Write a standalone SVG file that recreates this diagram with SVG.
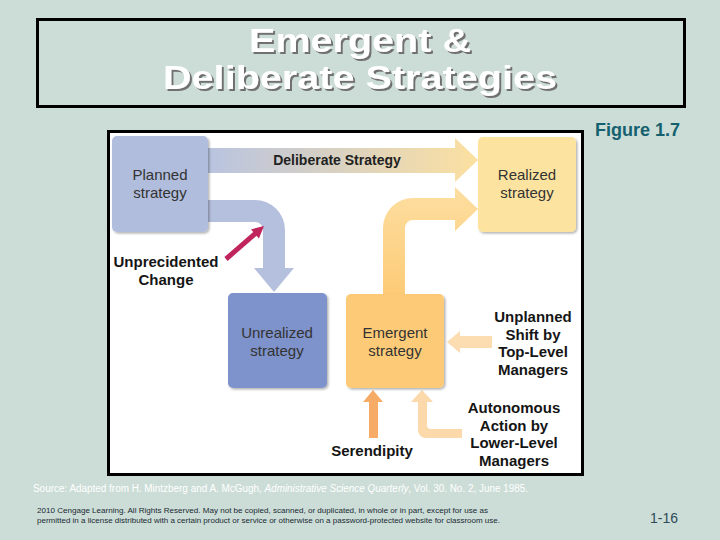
<svg xmlns="http://www.w3.org/2000/svg" width="720" height="540" viewBox="0 0 720 540">
<style>
.title{font-family:"Liberation Sans",Arial,sans-serif;font-weight:bold;font-size:34px;text-anchor:middle;fill:#fff}
.box{font-family:"Liberation Sans",Arial,sans-serif;font-size:15px;fill:#333;text-anchor:middle}
.lbl{font-family:"Liberation Sans",Arial,sans-serif;font-size:15px;font-weight:bold;fill:#151515;text-anchor:middle}
</style>
<defs>
<filter id="sh" x="-10%" y="-10%" width="125%" height="125%">
<feDropShadow dx="1.5" dy="1.5" stdDeviation="1" flood-color="#000" flood-opacity="0.3"/>
</filter>
<filter id="tsh" x="-5%" y="-10%" width="110%" height="130%">
<feDropShadow dx="2" dy="2" stdDeviation="0" flood-color="#707070" flood-opacity="1"/>
</filter>
<linearGradient id="gDel" gradientUnits="userSpaceOnUse" x1="208" y1="0" x2="478" y2="0">
<stop offset="0" stop-color="#B9C4E0"/>
<stop offset="1" stop-color="#FCE0A0"/>
</linearGradient>
<linearGradient id="gEm" gradientUnits="userSpaceOnUse" x1="0" y1="295" x2="0" y2="190">
<stop offset="0" stop-color="#FDCB77"/>
<stop offset="1" stop-color="#FDDEA0"/>
</linearGradient>
</defs>
<rect width="720" height="540" fill="#CCDDD7"/>
<g id="title">
<rect x="37.5" y="19.5" width="647" height="87" fill="none" stroke="#000" stroke-width="3"/>
<g filter="url(#tsh)">
<text class="title" x="360" y="52" textLength="222" lengthAdjust="spacingAndGlyphs">Emergent &amp;</text>
<text class="title" x="360" y="89" textLength="394" lengthAdjust="spacingAndGlyphs">Deliberate Strategies</text>
</g>
</g>
<text x="595" y="136" font-family="Liberation Sans,Arial,sans-serif" font-size="18" font-weight="bold" fill="#15606E">Figure 1.7</text>
<rect x="108.5" y="131.5" width="474" height="343" fill="#fff" stroke="#000" stroke-width="3"/>
<g id="connectors">
<path d="M208,148 H455 V138 L478,160 L455,182 V173 H208 Z" fill="url(#gDel)"/>
<path d="M208,200 H255 A30,30 0 0 1 285,230 V268 H294 L274,292 L254,268 H263 V230 A8,8 0 0 0 255,222 H208 Z" fill="#B5C0DE"/>
<path d="M383,295 V228 A30,30 0 0 1 413,198 H455 V187 L478,209 L455,231 V220 H413 A8,8 0 0 0 405,228 V295 Z" fill="url(#gEm)"/>
<g id="unprecedented-arrow">
<line x1="226" y1="259" x2="256" y2="233" stroke="#C0245C" stroke-width="5"/>
<polygon points="264,226 258.9,238.4 251,229.4" fill="#C0245C"/>
</g>
<path d="M492,336 H460 V331 L447,342 L460,353 V348 H492 Z" fill="#FCDDB2"/>
<path d="M369,438 V402 H363 L373,390 L383,402 H378 V438 Z" fill="#F6AC66"/>
<path d="M418,402 H411 L422,390 L433,402 H427 V425 A4,4 0 0 0 431,429 H462 V438 H426 A8,8 0 0 1 418,430 Z" fill="#FCD9AA"/>
</g>
<text x="337" y="165" font-family="Liberation Sans,Arial,sans-serif" font-size="14" font-weight="bold" fill="#222" text-anchor="middle">Deliberate Strategy</text>
<g id="planned">
<rect x="112" y="136" width="96" height="96" rx="5" fill="#B0BDDC" filter="url(#sh)"/>
<text class="box" x="160" y="180">Planned</text>
<text class="box" x="160" y="198">strategy</text>
</g>
<g id="realized">
<rect x="478" y="137" width="98" height="95" rx="5" fill="#FDE3A0" filter="url(#sh)"/>
<text class="box" x="527" y="180">Realized</text>
<text class="box" x="527" y="198">strategy</text>
</g>
<g id="unrealized">
<rect x="228" y="293" width="99" height="95" rx="5" fill="#7E92CB" filter="url(#sh)"/>
<text class="box" x="277" y="338">Unrealized</text>
<text class="box" x="277" y="356">strategy</text>
</g>
<g id="emergent">
<rect x="346" y="294" width="98" height="94" rx="5" fill="#FDCB77" filter="url(#sh)"/>
<text class="box" x="395" y="338">Emergent</text>
<text class="box" x="395" y="356">strategy</text>
</g>
<g id="unprecedented">
<text class="lbl" x="166" y="267">Unprecidented</text>
<text class="lbl" x="166" y="285">Change</text>
</g>
<g id="unplanned">
<text class="lbl" x="533" y="322">Unplanned</text>
<text class="lbl" x="533" y="340">Shift by</text>
<text class="lbl" x="533" y="357">Top-Level</text>
<text class="lbl" x="533" y="375">Managers</text>
</g>
<g id="autonomous">
<text class="lbl" x="514" y="413">Autonomous</text>
<text class="lbl" x="514" y="431">Action by</text>
<text class="lbl" x="514" y="448">Lower-Level</text>
<text class="lbl" x="514" y="466">Managers</text>
</g>
<g id="serendipity">
<text class="lbl" x="372" y="456">Serendipity</text>
</g>
<text x="33" y="492" font-family="Liberation Sans,Arial,sans-serif" font-size="10" fill="#fff" textLength="495" lengthAdjust="spacingAndGlyphs">Source: Adapted from H. Mintzberg and A. McGugh, <tspan font-style="italic">Administrative Science Quarterly</tspan>, Vol. 30. No. 2, June 1985.</text>
<text x="37" y="513" font-family="Liberation Sans,Arial,sans-serif" font-size="7.5" fill="#1A2A33" textLength="451" lengthAdjust="spacingAndGlyphs">2010 Cengage Learning.  All Rights Reserved.  May not be copied, scanned, or duplicated, in whole or in part, except for use as</text>
<text x="37" y="523" font-family="Liberation Sans,Arial,sans-serif" font-size="7.5" fill="#1A2A33" textLength="463" lengthAdjust="spacingAndGlyphs">permitted in a license distributed with a certain product or service or otherwise on a password-protected website for classroom use.</text>
<text x="650" y="523" font-family="Liberation Sans,Arial,sans-serif" font-size="14" fill="#2E4A58">1-16</text>
</svg>
